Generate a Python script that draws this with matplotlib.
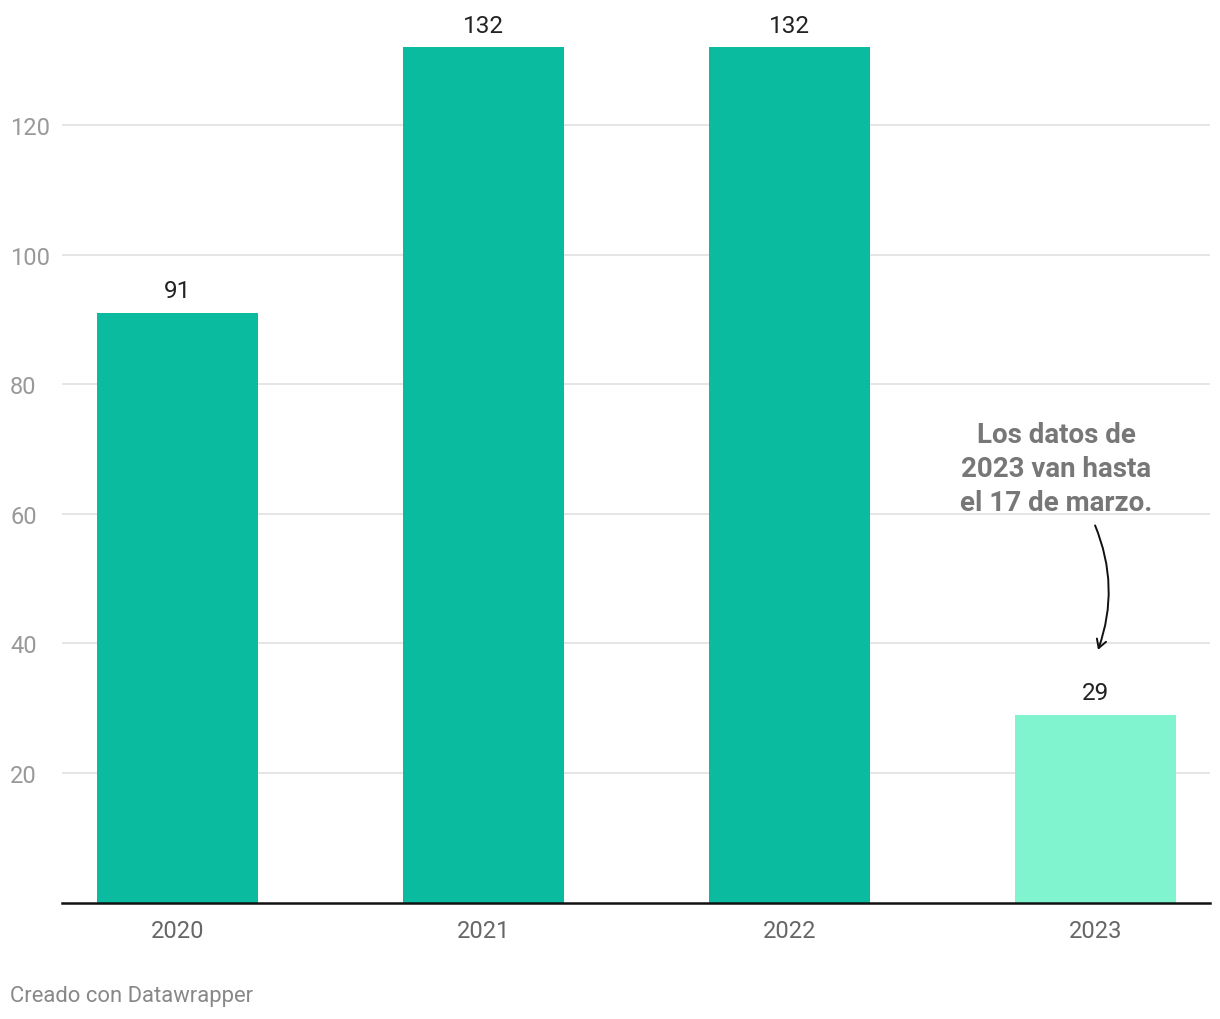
import matplotlib.pyplot as plt
from matplotlib.patches import FancyArrowPatch

plt.rcParams['font.family'] = ['Roboto', 'DejaVu Sans']

years = ['2020', '2021', '2022', '2023']
values = [91, 132, 132, 29]
colors = ['#0bbb9f', '#0bbb9f', '#0bbb9f', '#80f4ce']
yticks = [20, 40, 60, 80, 100, 120]

W, H = 1220, 1020
fig = plt.figure(figsize=(W / 100, H / 100), dpi=100)
# axes: left 62px, right 1210px, bottom 903.6px, top 48px
ax = fig.add_axes([62 / W, 1 - 903.6 / H, (1210 - 62) / W, (903.6 - 48.2) / H])

x = list(range(len(years)))
ax.bar(x, values, width=0.526, color=colors, zorder=2)
for xi, v in zip(x, values):
    ax.text(xi, v + 3.4, str(v), ha='center', va='center', fontsize=17.5,
            color='#222222', clip_on=False)

ax.set_xlim(-0.377, 3.374)
ax.set_ylim(0, 132)
ax.set_yticks(yticks)
ax.set_xticks(x)
ax.set_xticklabels(years)
ax.grid(axis='y', color='#e3e3e3', linewidth=1.3, zorder=0)
for s in ['top', 'right', 'left']:
    ax.spines[s].set_visible(False)
ax.spines['bottom'].set_color('#111111')
ax.spines['bottom'].set_linewidth(1.8)
ax.spines['bottom'].set_zorder(3)
ax.tick_params(axis='y', length=0, labelsize=17, labelcolor='#999999', pad=52 * 0.72)
ax.tick_params(axis='x', length=0, labelsize=17, labelcolor='#666666', pad=12)
for lab in ax.get_yticklabels():
    lab.set_horizontalalignment('left')

ax.text(2.871, 67.0, 'Los datos de\n2023 van hasta\nel 17 de marzo.', ha='center',
        va='center', fontsize=20, fontweight='bold', color='#777777', linespacing=1.33)
arr = FancyArrowPatch((2.995, 58.6), (3.005, 38.6), connectionstyle='arc3,rad=-0.2',
                      arrowstyle='->,head_length=6,head_width=3.5', color='#111111',
                      linewidth=1.4, zorder=4)
ax.add_patch(arr)

fig.text(10 / W, 1 - 997 / H, 'Creado con Datawrapper', ha='left', va='center',
         fontsize=15.8, color='#888888')

fig.savefig('out.png', dpi=100, facecolor='white')
